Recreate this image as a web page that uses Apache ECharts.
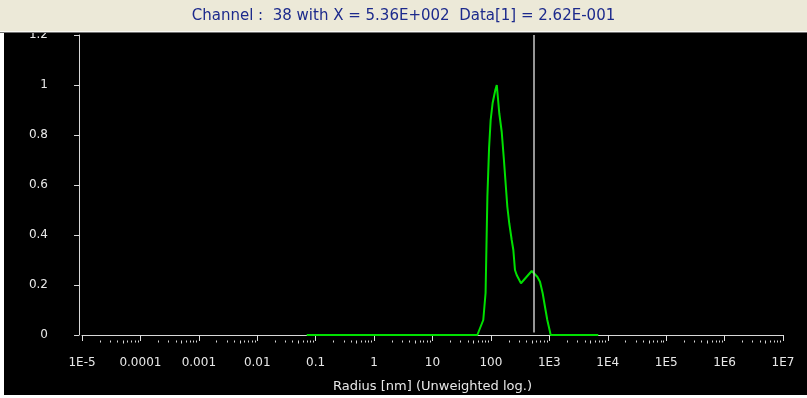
<!DOCTYPE html>
<html><head><meta charset="utf-8">
<script src="https://cdn.jsdelivr.net/npm/echarts@6/dist/echarts.min.js"></script>
<style>html,body{margin:0;padding:0;background:#fff}#c{width:807px;height:398px}</style>
</head><body><div id="c"></div>
<script>
// Data (radius in nm, unweighted intensity)
const radius = [0.0702, 58.5, 74, 81, 87, 93, 99, 107, 119, 126, 139, 153, 167, 181, 191, 206, 227, 242, 258, 276, 327, 409, 499, 536, 622, 692, 769, 842, 923, 1055, 6890];
const intensity = [0, 0, 0.06, 0.168, 0.553, 0.748, 0.86, 0.928, 0.98, 1.0, 0.887, 0.813, 0.70, 0.588, 0.513, 0.447, 0.38, 0.34, 0.26, 0.24, 0.207, 0.233, 0.256, 0.262, 0.233, 0.213, 0.167, 0.113, 0.06, 0, 0];
const cursorX = 536;
const xTickLabels = {'-5':'1E-5','-4':'0.0001','-3':'0.001','-2':'0.01','-1':'0.1','0':'1','1':'10','2':'100','3':'1E3','4':'1E4','5':'1E5','6':'1E6','7':'1E7'};
const yTickLabels = ['0','0.2','0.4','0.6','0.8','1','1.2'];
const titleText = 'Channel :  38 with X = 5.36E+002  Data[1] = 2.62E-001';
const xTitle = 'Radius [nm] (Unweighted log.)';

const minorTicks = [];
for (let e = -5; e < 7; e++) for (let m = 2; m <= 9; m++) minorTicks.push([m * Math.pow(10, e), 0]);

const chart = echarts.init(document.getElementById('c'), null, {renderer: 'canvas'});
const fontFam = 'DejaVu Sans, Liberation Sans, sans-serif';
chart.setOption({
  animation: false,
  backgroundColor: '#000',
  grid: {left: 82, right: 24, top: 35, bottom: 63},
  xAxis: {
    type: 'log', min: 1e-5, max: 1e7, logBase: 10, offset: 5, interval: 1, splitNumber: 12,
    axisLine: {lineStyle: {color: '#d8d8d8', width: 1}},
    axisTick: {inside: false, length: 6, interval: 0, lineStyle: {color: '#e0e0e0', width: 1}},
    splitLine: {show: false},
    axisLabel: {color: '#e8e8e8', fontSize: 12, fontFamily: fontFam, margin: 17, interval: 0,
      formatter: v => { const e = Math.round(Math.log10(v)); return xTickLabels[e] || ''; }},
    name: xTitle, nameLocation: 'middle', nameGap: 40,
    nameTextStyle: {color: '#e8e8e8', fontSize: 13, fontFamily: fontFam}
  },
  yAxis: {
    type: 'value', min: 0, max: 1.2, interval: 0.2, offset: 3,
    axisLine: {show: true, lineStyle: {color: '#d8d8d8'}},
    axisTick: {show: true, length: 5, lineStyle: {color: '#d8d8d8'}},
    splitLine: {show: false},
    axisLabel: {color: '#e8e8e8', fontSize: 12, fontFamily: fontFam, margin: 31,
      formatter: (v) => yTickLabels[Math.round(v / 0.2)]}
  },
  series: [
    {
      type: 'line', data: radius.map((r, i) => [r, intensity[i]]),
      showSymbol: false, lineStyle: {color: '#00e000', width: 2}, z: 3,
      markLine: {
        silent: true, symbol: 'none', label: {show: false},
        lineStyle: {color: '#c8c8c8', type: 'solid', width: 1.5},
        data: [[{coord: [cursorX, 1.2]}, {coord: [cursorX, 0.01]}]]
      }
    },
    {
      type: 'custom', data: minorTicks, clip: false, silent: true,
      renderItem: (params, api) => {
        const p = api.coord([api.value(0), 0]);
        const m = Math.round(api.value(0) / Math.pow(10, Math.floor(Math.log10(api.value(0)) + 1e-9)));
        const y0 = 340.5;
        return {type: 'line', shape: {x1: Math.round(p[0]) + 0.5, y1: y0, x2: Math.round(p[0]) + 0.5, y2: y0 + (m === 5 ? 3 : 2)},
          style: {stroke: '#d8d8d8', lineWidth: 1}};
      }
    }
  ],
  graphic: [
    {type: 'rect', shape: {x: 0, y: 0, width: 807, height: 32}, style: {fill: '#ECE9D8'}, z: 100},
    {type: 'rect', shape: {x: 0, y: 31, width: 807, height: 1}, style: {fill: '#fafaf5'}, z: 101},
    {type: 'rect', shape: {x: 0, y: 32, width: 807, height: 1}, style: {fill: '#707070'}, z: 101},
    {type: 'rect', shape: {x: 0, y: 32, width: 4, height: 366}, style: {fill: '#ffffff'}, z: 100},
    {type: 'rect', shape: {x: 0, y: 395, width: 807, height: 3}, style: {fill: '#ffffff'}, z: 100},
    {type: 'text', left: 'center', top: 9, z: 102,
      style: {text: titleText, fill: '#1c2a8c', font: '15px ' + fontFam}}
  ]
});
</script></body></html>
